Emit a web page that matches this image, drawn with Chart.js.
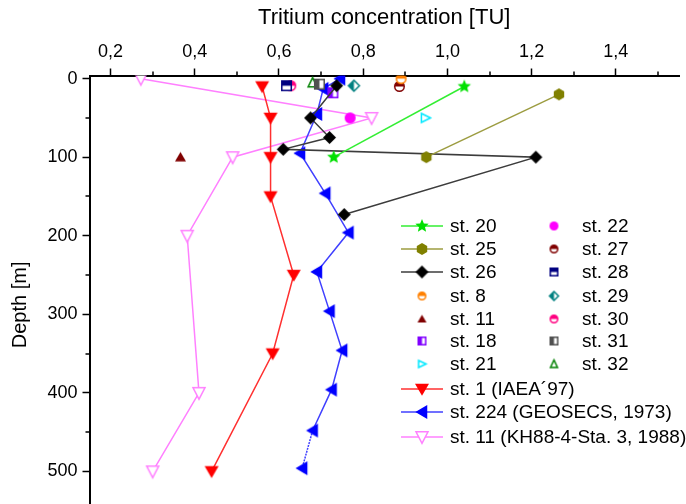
<!DOCTYPE html>
<html>
<head>
<meta charset="utf-8">
<script src="https://cdn.jsdelivr.net/npm/chart.js@4.4.1/dist/chart.umd.min.js"></script>
<style>
  html, body { margin: 0; padding: 0; background: #fff; overflow: hidden; }
  canvas { display: block; }
</style>
</head>
<body>
<canvas id="myChart" width="686" height="550"></canvas>
<script>
// tritium [TU] against depth [m], one pair of arrays per station
const xTicks = [0.2, 0.4, 0.6, 0.8, 1.0, 1.2, 1.4];
const yTicks = [0, 100, 200, 300, 400, 500];
const xMinor = [0.3, 0.5, 0.7, 0.9, 1.1, 1.3, 1.5];
const yMinor = [50, 150, 250, 350, 450, 550];

const st20Tu = [1.04, 0.73];
const st20Depth = [10, 100];
const st25Tu = [1.265, 0.95];
const st25Depth = [20, 100];
const st26Tu = [0.737, 0.675, 0.72, 0.61, 1.21, 0.755];
const st26Depth = [9, 50, 75, 90, 100, 173];
const st8Tu = [0.89];
const st8Depth = [0];
const st11Tu = [0.366];
const st11Depth = [100];
const st18Tu = [0.728];
const st18Depth = [18];
const st21Tu = [0.948];
const st21Depth = [50];
const st22Tu = [0.769];
const st22Depth = [50];
const st27Tu = [0.886];
const st27Depth = [10];
const st28Tu = [0.618];
const st28Depth = [9];
const st29Tu = [0.778];
const st29Depth = [9];
const st30Tu = [0.628];
const st30Depth = [9];
const st31Tu = [0.696];
const st31Depth = [7];
const st32Tu = [0.68];
const st32Depth = [5];
const st1Tu = [0.56, 0.58, 0.58, 0.58, 0.635, 0.585, 0.44];
const st1Depth = [10, 50, 100, 150, 250, 350, 500];
const st224Tu = [0.745, 0.705, 0.69, 0.65, 0.71, 0.765, 0.69, 0.72, 0.75, 0.725, 0.68, 0.655];
const st224Depth = [0, 13, 45, 95, 146, 196, 246, 296, 346, 396, 448, 496];
const khTu = [0.272, 0.82, 0.49, 0.382, 0.41, 0.30];
const khDepth = [0, 50, 100, 200, 400, 500];

const FONT = "'Liberation Sans', Arial, sans-serif";

// small canvases used as point symbols
function marker(shape, color, size) {
    const pad = 2, d = size + pad * 2;
    const c = document.createElement('canvas');
    c.width = c.height = d;
    const g = c.getContext('2d');
    const m = d / 2, r = size / 2;
    g.fillStyle = color;
    g.strokeStyle = color;
    g.lineWidth = 1.5;
    const poly = pts => {
        g.beginPath();
        pts.forEach(([x, y], i) => i ? g.lineTo(m + x, m + y) : g.moveTo(m + x, m + y));
        g.closePath();
    };
    const open = () => { g.fillStyle = '#fff'; g.fill(); g.stroke(); };
    if (shape === 'star') {
        const pts = [];
        for (let i = 0; i < 10; i++) {
            const a = -Math.PI / 2 + i * Math.PI / 5, rr = i % 2 ? r * 0.45 : r;
            pts.push([rr * Math.cos(a), rr * Math.sin(a)]);
        }
        poly(pts); g.fill();
    } else if (shape === 'hexagon') {
        const pts = [];
        for (let i = 0; i < 6; i++) {
            const a = Math.PI / 6 + i * Math.PI / 3;
            pts.push([r * Math.cos(a), r * Math.sin(a)]);
        }
        poly(pts); g.fill();
    } else if (shape === 'diamond') {
        poly([[0, -r], [r, 0], [0, r], [-r, 0]]); g.fill();
    } else if (shape === 'triDown') {
        poly([[-r, -r * 0.75], [r, -r * 0.75], [0, r * 0.95]]); g.fill();
    } else if (shape === 'triDownOpen') {
        poly([[-r + 1, -r * 0.75], [r - 1, -r * 0.75], [0, r * 0.9]]); open();
    } else if (shape === 'triUp') {
        poly([[-r, r * 0.75], [r, r * 0.75], [0, -r * 0.95]]); g.fill();
    } else if (shape === 'triUpOpen') {
        poly([[-r + 1, r * 0.75], [r - 1, r * 0.75], [0, -r * 0.9]]); open();
    } else if (shape === 'triLeft') {
        poly([[-r * 0.95, 0], [r * 0.75, -r], [r * 0.75, r]]); g.fill();
    } else if (shape === 'triRightOpen') {
        poly([[r * 0.9, 0], [-r * 0.75, -r + 1], [-r * 0.75, r - 1]]); open();
    } else if (shape === 'circle') {
        g.beginPath(); g.arc(m, m, r, 0, Math.PI * 2); g.fill();
    } else if (shape === 'halfCircle') {
        g.beginPath(); g.arc(m, m, r - 0.75, 0, Math.PI * 2); open();
        g.fillStyle = color;
        g.beginPath(); g.arc(m, m, r - 0.75, Math.PI, 0); g.closePath(); g.fill();
    } else if (shape === 'halfSquareLeft') {
        g.beginPath(); g.rect(m - r + 0.75, m - r + 0.75, size - 1.5, size - 1.5); open();
        g.fillStyle = color; g.fillRect(m - r, m - r, r, size);
    } else if (shape === 'halfSquareTop') {
        g.beginPath(); g.rect(m - r + 0.75, m - r + 0.75, size - 1.5, size - 1.5); open();
        g.fillStyle = color; g.fillRect(m - r, m - r, size, r);
    } else if (shape === 'halfDiamondLeft') {
        poly([[0, -r], [r, 0], [0, r], [-r, 0]]); open();
        g.fillStyle = color; poly([[0, -r], [0, r], [-r, 0]]); g.fill();
    }
    return c;
}

function pts(tu, depth) {
    return tu.map((v, i) => ({ x: v, y: depth[i] }));
}

function lineSet(label, tu, depth, color, lineColor, shape, size) {
    return {
        label: label,
        data: pts(tu, depth),
        borderColor: lineColor,
        borderWidth: 1.5,
        pointStyle: marker(shape, color, size),
        legendIcon: marker(shape, color, size),
        showLine: true,
        tension: 0
    };
}

function dotSet(label, tu, depth, color, shape) {
    return {
        label: label,
        data: pts(tu, depth),
        borderColor: color,
        pointStyle: marker(shape, color, 11),
        legendIcon: marker(shape, color, 9),
        showLine: false
    };
}

const last224 = st224Tu.length - 2;
const datasets = [
    lineSet('st. 20', st20Tu, st20Depth, '#00e000', '#33ee33', 'star', 14),
    lineSet('st. 25', st25Tu, st25Depth, '#808000', '#9c9c40', 'hexagon', 12),
    lineSet('st. 26', st26Tu, st26Depth, '#000000', '#3c3c3c', 'diamond', 13),
    dotSet('st. 8', st8Tu, st8Depth, '#ff8000', 'halfCircle'),
    dotSet('st. 11', st11Tu, st11Depth, '#800000', 'triUp'),
    dotSet('st. 18', st18Tu, st18Depth, '#8000ff', 'halfSquareLeft'),
    dotSet('st. 21', st21Tu, st21Depth, '#00e8ff', 'triRightOpen'),
    dotSet('st. 22', st22Tu, st22Depth, '#ff00ff', 'circle'),
    dotSet('st. 27', st27Tu, st27Depth, '#800000', 'halfCircle'),
    dotSet('st. 28', st28Tu, st28Depth, '#000080', 'halfSquareTop'),
    dotSet('st. 29', st29Tu, st29Depth, '#008080', 'halfDiamondLeft'),
    dotSet('st. 30', st30Tu, st30Depth, '#ff0080', 'halfCircle'),
    dotSet('st. 31', st31Tu, st31Depth, '#505050', 'halfSquareLeft'),
    dotSet('st. 32', st32Tu, st32Depth, '#008000', 'triUpOpen'),
    lineSet('st. 1 (IAEA\u00b497)', st1Tu, st1Depth, '#ff0000', '#ff3030', 'triDown', 14),
    lineSet('st. 224 (GEOSECS, 1973)', st224Tu, st224Depth, '#0000ff', '#4040ff', 'triLeft', 14),
    lineSet('st. 11 (KH88-4-Sta. 3, 1988)', khTu, khDepth, '#ff80ff', '#ff80ff', 'triDownOpen', 14)
];
datasets[15].segment = { borderDash: c => c.p0DataIndex === last224 ? [2, 1] : undefined };

// legend: [dataset index, column, row]
const legendRows = [226, 249, 272, 296, 319, 341, 364, 389, 412, 437];
const legendLayout = [
    [0, 0, 0], [1, 0, 1], [2, 0, 2], [3, 0, 3], [4, 0, 4], [5, 0, 5], [6, 0, 6],
    [7, 1, 0], [8, 1, 1], [9, 1, 2], [10, 1, 3], [11, 1, 4], [12, 1, 5], [13, 1, 6],
    [14, 0, 7], [15, 0, 8], [16, 0, 9]
];

const decor = {
    id: 'decor',
    beforeDraw(chart) {
        const c = chart.ctx;
        c.save();
        c.fillStyle = '#fff';
        c.fillRect(0, 0, chart.width, chart.height);
        c.restore();
    },
    afterDraw(chart) {
        const c = chart.ctx, xs = chart.scales.x, ys = chart.scales.y;
        c.save();
        // minor ticks
        c.strokeStyle = '#000';
        c.lineWidth = 1.5;
        c.beginPath();
        xMinor.forEach(v => {
            const px = Math.round(xs.getPixelForValue(v));
            c.moveTo(px, xs.bottom);
            c.lineTo(px, xs.bottom - 4);
        });
        yMinor.forEach(v => {
            const py = Math.round(ys.getPixelForValue(v));
            c.moveTo(ys.right, py);
            c.lineTo(ys.right - 4, py);
        });
        c.stroke();
        // legend
        c.font = '19px ' + FONT;
        c.fillStyle = '#000';
        c.textBaseline = 'middle';
        legendLayout.forEach(([i, col, row]) => {
            const ds = chart.data.datasets[i];
            const y = legendRows[row];
            const mx = col === 0 ? 422 : 554;
            const tx = col === 0 ? 450 : 582;
            if (ds.showLine) {
                c.strokeStyle = ds.borderColor;
                c.lineWidth = 1.5;
                c.beginPath();
                c.moveTo(401, y);
                c.lineTo(443, y);
                c.stroke();
            }
            const img = ds.legendIcon;
            c.drawImage(img, mx - img.width / 2, y - img.height / 2);
            c.fillText(ds.label, tx, y + 1);
        });
        c.restore();
    }
};

const ctx = document.getElementById('myChart').getContext('2d');

const myChart = new Chart(ctx, {
    type: 'line',
    data: { datasets: datasets },
    options: {
        responsive: false,
        animation: false,
        layout: { padding: { top: 4, right: 7, left: 0, bottom: 7 } },
        plugins: { legend: { display: false }, tooltip: { enabled: false } },
        scales: {
            x: {
                type: 'linear',
                position: 'top',
                min: 0.15,
                max: 1.55,
                afterBuildTicks: axis => { axis.ticks = xTicks.map(v => ({ value: v })); },
                afterFit: axis => { axis.height = 71.5; },
                grid: { drawOnChartArea: false, drawTicks: true, tickLength: 7, tickWidth: 1.5, tickColor: '#000' },
                border: { display: true, color: '#000', width: 2 },
                ticks: {
                    color: '#000',
                    padding: 6,
                    font: { family: FONT, size: 18 },
                    callback: v => v.toFixed(1).replace('.', ',')
                },
                title: {
                    display: true,
                    text: 'Tritium concentration [TU]',
                    color: '#000',
                    font: { family: FONT, size: 22 },
                    padding: { top: 1, bottom: 0 }
                }
            },
            y: {
                type: 'linear',
                reverse: true,
                min: -4,
                max: 580,
                afterBuildTicks: axis => { axis.ticks = yTicks.map(v => ({ value: v })); },
                afterFit: axis => { axis.width = 89.5; },
                grid: { drawOnChartArea: false, drawTicks: true, tickLength: 7, tickWidth: 1.5, tickColor: '#000' },
                border: { display: true, color: '#000', width: 2 },
                ticks: {
                    color: '#000',
                    padding: 5,
                    font: { family: FONT, size: 18 }
                },
                title: {
                    display: true,
                    text: 'Depth [m]',
                    color: '#000',
                    font: { family: FONT, size: 20 },
                    padding: { top: 8, bottom: 0 }
                }
            }
        }
    },
    plugins: [decor]
});
</script>
</body>
</html>
